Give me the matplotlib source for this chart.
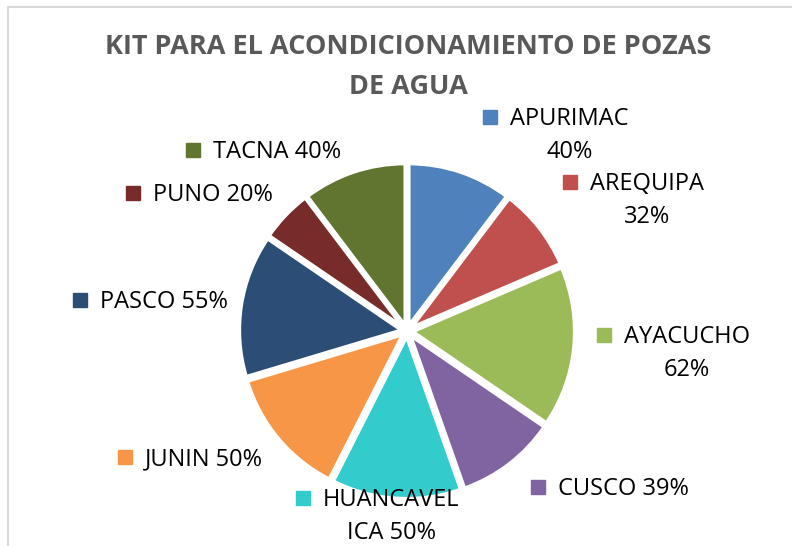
import matplotlib
matplotlib.use('Agg')
import matplotlib.pyplot as plt
from matplotlib.patches import Rectangle

W, H = 792, 546

regions = ['APURIMAC', 'AREQUIPA', 'AYACUCHO', 'CUSCO', 'HUANCAVELICA',
           'JUNIN', 'PASCO', 'PUNO', 'TACNA']
percent = [40, 32, 62, 39, 50, 50, 55, 20, 40]
# label text as it wraps in the original
label_text = ['APURIMAC\n40%', 'AREQUIPA\n32%', 'AYACUCHO\n62%', 'CUSCO 39%',
              'HUANCAVEL\nICA 50%', 'JUNIN 50%', 'PASCO 55%', 'PUNO 20%', 'TACNA 40%']
colors = ['#4f81bd', '#c0504d', '#9bbb59', '#8064a2', '#33cccc',
          '#f79646', '#2c4d75', '#772c2a', '#5f7530']
# key square position (px from top-left) for each label
label_pos = [(490, 117), (570, 182), (604, 335), (538, 487), (303, 498),
             (125, 457), (80, 300), (133, 193), (193, 150)]

FONT = 'Open Sans'

fig = plt.figure(figsize=(W / 100, H / 100), dpi=100)

# light chart frame, cut off on the right and bottom
fig.patches.append(Rectangle((8 / W, -0.1), 1.2, (H - 7) / H + 0.1,
                             transform=fig.transFigure, fill=False,
                             edgecolor='#d9d9d9', lw=1.5))

fig.text(408 / W, 1 - 67 / H, 'KIT PARA EL ACONDICIONAMIENTO DE POZAS\nDE AGUA',
         ha='center', va='center', fontsize=19.5, fontweight='bold',
         color='#595959', family=FONT, linespacing=1.65)

# pie axes: center (407, 331) px, radius 162 px
cx, cy, R, half = 407, 331, 162, 200
ax = fig.add_axes([(cx - half) / W, (H - cy - half) / H, 2 * half / W, 2 * half / H])
ax.pie(percent, colors=colors, startangle=90, counterclock=False,
       explode=[0.035] * len(percent),
       wedgeprops=dict(edgecolor='white', linewidth=2.5))
ax.set_xlim(-half / R, half / R)
ax.set_ylim(-half / R, half / R)
ax.axis('off')

for (x, y), txt, c in zip(label_pos, label_text, colors):
    fig.patches.append(Rectangle(((x - 7) / W, 1 - (y + 7) / H), 14 / W, 14 / H,
                                 transform=fig.transFigure, color=c))
    fig.text((x + 20) / W, 1 - (y - 10) / H, txt, ha='left', va='top',
             multialignment='center', fontsize=17, family=FONT,
             color='#000000', linespacing=1.5)

fig.savefig('out.png', dpi=100)
